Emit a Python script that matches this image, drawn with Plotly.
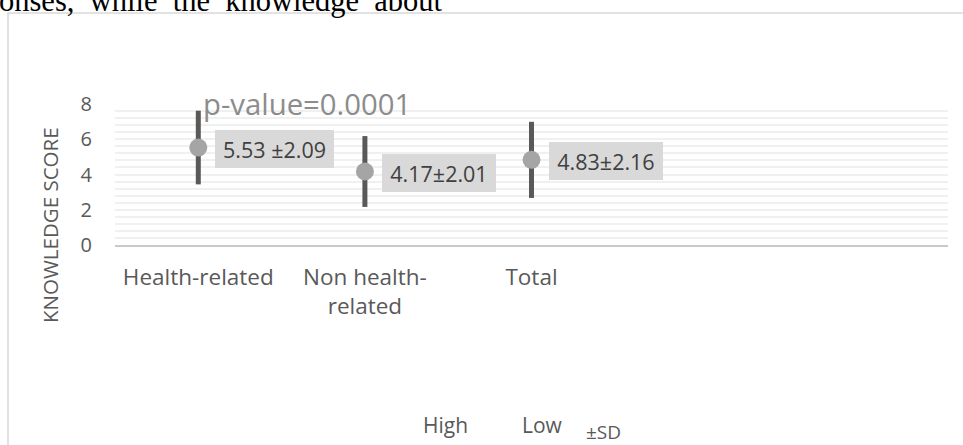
import plotly.graph_objects as go

# ---- data ----
categories = ["Health-related", "Non health-<br>related", "Total", "", ""]
cat_pos = [0, 1, 2, 3, 4]
means = [5.53, 4.17, 4.83]
sds = [2.09, 2.01, 2.16]
value_labels = ["5.53 ±2.09", "4.17±2.01", "4.83±2.16"]
y_ticks = [0, 2, 4, 6, 8]
legend_items = ["High", "Low", "±SD"]
p_text = "p-value=0.0001"
y_title = "KNOWLEDGE SCORE"
header_text = "onses,\u00a0\u00a0while\u00a0\u00a0the\u00a0\u00a0knowledge\u00a0\u00a0about"

# ---- geometry helpers (pixel -> paper) ----
W, H = 963, 445
L, R, T, B = 115, 948, 104, 245


def px(x):
    return (x - L) / (R - L)


def py(y):
    return (B - y) / (B - T)


FONT = "Open Sans"
TXT = "#595959"

fig = go.Figure()
fig.add_trace(go.Scatter(
    x=cat_pos[:len(means)], y=means, mode="markers",
    marker=dict(size=18, color="#a5a5a5"),
    error_y=dict(type="data", array=sds, visible=True, thickness=5, width=0, color="#595959"),
    showlegend=False, hoverinfo="skip",
))

annotations = []
box_widths = [119, 114, 114]
for i, (m, lab) in enumerate(zip(means, value_labels)):
    annotations.append(dict(
        x=cat_pos[i], y=m, xref="x", yref="y", text=lab, showarrow=False,
        xanchor="left", yanchor="middle", xshift=17, yshift=-1,
        bgcolor="#d9d9d9", borderwidth=0, borderpad=0,
        width=box_widths[i], height=38,
        font=dict(family=FONT, size=21.5, color="#404040"),
    ))

annotations.append(dict(
    x=px(307), y=py(104), xref="paper", yref="paper", text=p_text, showarrow=False,
    xanchor="center", yanchor="middle",
    font=dict(family=FONT, size=29.3, color="#8c8c8c"),
))
annotations.append(dict(
    x=px(50), y=py(225), xref="paper", yref="paper", text=y_title, showarrow=False,
    textangle=-90, xanchor="center", yanchor="middle",
    font=dict(family=FONT, size=20.5, color=TXT),
))
legend_pos = [(445, 425, 21), (542, 425, 21), (603, 432, 19)]
for item, (lx, ly, fs) in zip(legend_items, legend_pos):
    annotations.append(dict(
        x=px(lx), y=py(ly), xref="paper", yref="paper", text=item, showarrow=False,
        xanchor="center", yanchor="middle",
        font=dict(family=FONT, size=fs, color=TXT),
    ))
annotations.append(dict(
    x=px(-3), y=py(0.5), xref="paper", yref="paper", text=header_text, showarrow=False,
    xanchor="left", yanchor="middle",
    font=dict(family="Liberation Serif", size=30.5, color="#000000"),
))

fig.update_layout(
    width=W, height=H,
    margin=dict(l=L, r=W - R, t=T, b=H - B, pad=0),
    paper_bgcolor="white", plot_bgcolor="white",
    showlegend=False,
    annotations=annotations,
    shapes=[dict(type="rect", xref="paper", yref="paper",
                 x0=px(8), y0=py(13), x1=px(1100), y1=py(600),
                 line=dict(color="#d9d9d9", width=1.5), layer="below")],
    xaxis=dict(
        range=[-0.5, 4.5], tickmode="array", tickvals=cat_pos[:3], ticktext=categories[:3],
        showgrid=False, zeroline=False, showline=True, linecolor="#c9c9c9", linewidth=2,
        ticks="", ticklabelstandoff=11,
        tickfont=dict(family=FONT, size=22.5, color=TXT),
    ),
    yaxis=dict(
        range=[0, 8], tickmode="array", tickvals=y_ticks,
        showgrid=True, gridcolor="#f0f0f0", gridwidth=2,
        minor=dict(dtick=0.4, showgrid=True, gridcolor="#f0f0f0", gridwidth=2),
        zeroline=False, showline=False, ticks="", ticklabelstandoff=22,
        tickfont=dict(family=FONT, size=20, color=TXT),
    ),
)

fig.write_html(
    "out.html",
    config={"displayModeBar": False},
    post_script="document.body.style.margin='0';document.body.style.overflow='hidden';",
)
